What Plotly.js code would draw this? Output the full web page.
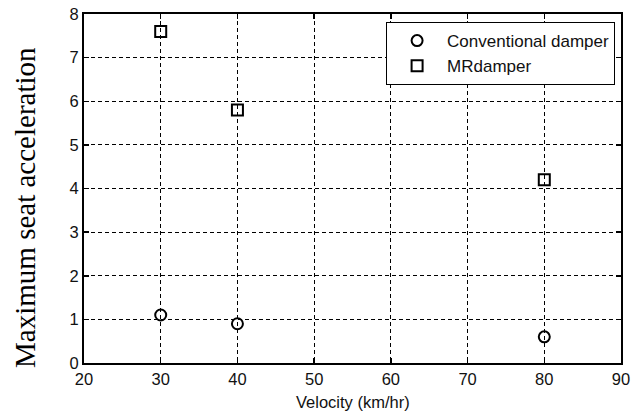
<!DOCTYPE html>
<html>
<head>
<meta charset="utf-8">
<script src="https://cdn.plot.ly/plotly-3.0.1.min.js"></script>
<style>
  body { margin: 0; background: #fff; }
  #myDiv { width: 636px; height: 416px; }
</style>
</head>
<body>
<div id="myDiv"></div>
<script>
// velocities (km/hr) and max seat acceleration
var velocity = [30, 40, 80];
var conventional = [1.1, 0.9, 0.6];
var mrDamper = [7.6, 5.8, 4.2];

var xTicks = [20, 30, 40, 50, 60, 70, 80, 90];
var yTicks = [0, 1, 2, 3, 4, 5, 6, 7, 8];

var sansFont = 'Liberation Sans, Arial, sans-serif';

var data = [
  {
    x: velocity,
    y: conventional,
    name: 'Conventional damper',
    mode: 'markers',
    type: 'scatter',
    marker: {
      symbol: 'circle-open',
      size: 11,
      color: '#000',
      line: { width: 2, color: '#000' }
    }
  },
  {
    x: velocity,
    y: mrDamper,
    name: 'MRdamper',
    mode: 'markers',
    type: 'scatter',
    marker: {
      symbol: 'square-open',
      size: 11,
      color: '#000',
      line: { width: 2, color: '#000' }
    }
  }
];

var axisCommon = {
  showline: true,
  linecolor: '#000',
  linewidth: 2,
  mirror: 'ticks',
  ticks: 'inside',
  ticklen: 5,
  tickwidth: 1.5,
  tickcolor: '#000',
  showgrid: true,
  gridcolor: '#000',
  gridwidth: 1,
  griddash: '4px,3px',
  zeroline: false,
  tickfont: { family: sansFont, size: 16.5, color: '#111' }
};

var layout = {
  width: 636,
  height: 416,
  margin: { l: 84, r: 15, t: 14, b: 53 },
  paper_bgcolor: '#fff',
  plot_bgcolor: '#fff',
  showlegend: true,
  legend: {
    x: 0.989,
    xanchor: 'right',
    y: 0.977,
    yanchor: 'top',
    bgcolor: '#fff',
    bordercolor: '#000',
    borderwidth: 1,
    itemwidth: 50,
    font: { family: sansFont, size: 17, color: '#111' },
    tracegroupgap: 0
  },
  xaxis: Object.assign({}, axisCommon, {
    range: [20, 90],
    tickvals: xTicks,
    ticktext: xTicks.map(String)
  }),
  yaxis: Object.assign({}, axisCommon, {
    range: [0, 8],
    tickvals: yTicks,
    ticktext: yTicks.map(String)
  }),
  annotations: [
    {
      text: 'Velocity (km/hr)',
      xref: 'paper', yref: 'paper',
      x: 0.5, y: -0.112,
      xanchor: 'center', yanchor: 'middle',
      showarrow: false,
      font: { family: sansFont, size: 16.5, color: '#111' }
    },
    {
      text: 'Maximum seat acceleration',
      xref: 'paper', yref: 'paper',
      x: -0.110, y: 0.447,
      xanchor: 'center', yanchor: 'middle',
      textangle: -90,
      showarrow: false,
      font: { family: 'Liberation Serif, Times New Roman, serif', size: 29, color: '#000' }
    }
  ]
};

Plotly.newPlot('myDiv', data, layout, { staticPlot: true });
</script>
</body>
</html>
